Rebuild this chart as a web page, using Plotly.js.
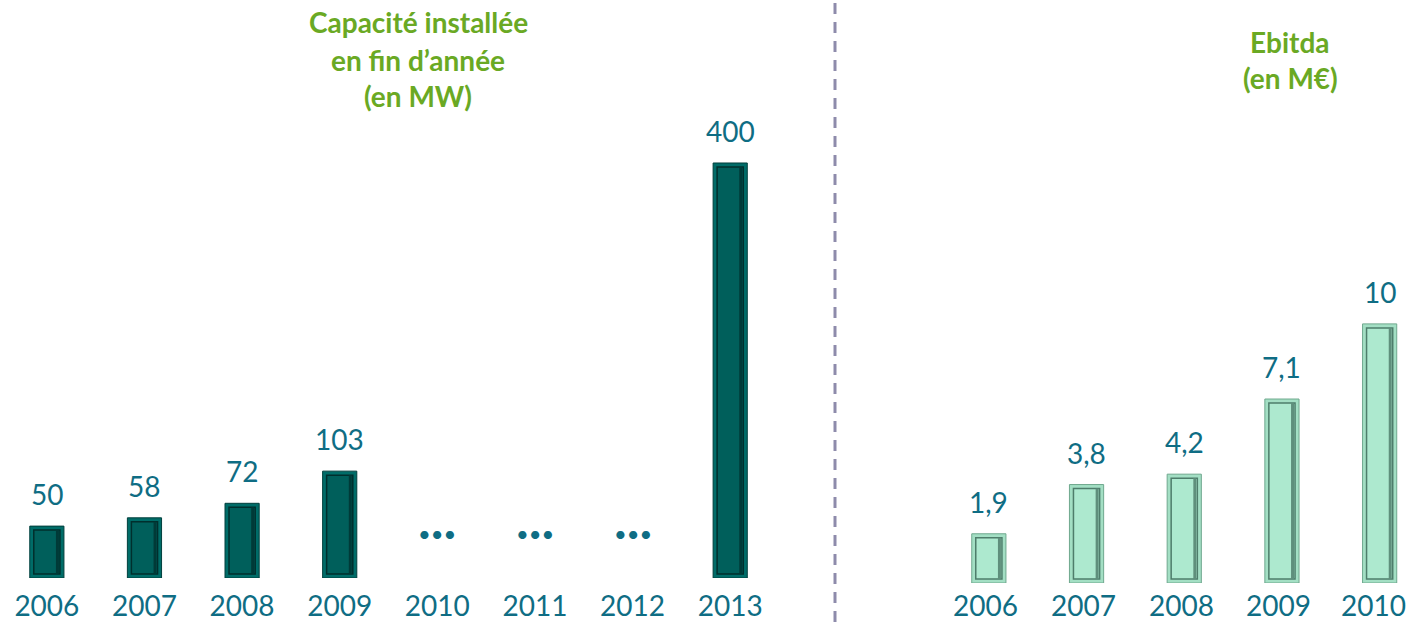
<!DOCTYPE html>
<html>
<head>
<meta charset="utf-8">
<script src="https://cdn.plot.ly/plotly-3.0.1.min.js"></script>
<style>html,body{margin:0;padding:0;background:#fff;}#chart{width:1407px;height:622px;}</style>
</head>
<body>
<div id="chart"></div>
<script>
// ---- data ----
const capYears = ["2006","2007","2008","2009","2010","2011","2012","2013"];
const capValues = [50, 58, 72, 103, null, null, null, 400];
const capLabels = ["50","58","72","103","•••","•••","•••","400"];

const ebitdaYears = ["2006","2007","2008","2009","2010"];
const ebitdaValues = [1.9, 3.8, 4.2, 7.1, 10];
const ebitdaLabels = ["1,9","3,8","4,2","7,1","10"];

const capTitleLines = ["Capacité installée", "en fin d’année", "(en MW)"];
const ebitdaTitleLines = ["Ebitda", "(en M€)"];

// ---- style ----
const W = 1407, H = 622;
const FONT = "Lato, 'Open Sans', sans-serif";
const labelColor = "#0f6d84";
const titleColor = "#6aa924";

// left axis geometry
const leftRange = [-0.48, 7.5];
const leftDomainEnd = 779 / W;
const leftBottomPx = 578;
const leftYMax = 557.1;
const leftPxPerUnit = leftBottomPx / leftYMax;
const leftPxPerCat = 97.6;

// right axis geometry
const rightRange = [-0.5, 4.28];
const rightDomainStart = 940 / W;
const rightBottomPx = 583;
const rightYMax = 22.5;
const rightPxPerUnit = rightBottomPx / rightYMax;
const rightPxPerCat = 97.5;

const barW = 0.35;
const insetPx = 4;
const shadePx = 3;

function innerTrace(xs, vals, pxPerUnit, pxPerCat, color, line, xa, ya) {
  const inset = insetPx / pxPerUnit;
  return {
    type: "bar", x: xs,
    y: vals.map(v => v == null ? null : v - 2 * inset),
    base: vals.map(v => v == null ? null : inset),
    width: barW - 2 * insetPx / pxPerCat,
    marker: {color: color, line: {color: line, width: 1.5}},
    xaxis: xa, yaxis: ya, hoverinfo: "skip"
  };
}
function shadeTrace(xs, vals, pxPerUnit, pxPerCat, color, xa, ya) {
  const inset = insetPx / pxPerUnit;
  return {
    type: "bar", x: xs,
    y: vals.map(v => v == null ? null : v - 2 * inset),
    base: vals.map(v => v == null ? null : inset),
    width: shadePx / pxPerCat,
    offset: barW / 2 - (insetPx + shadePx + 1) / pxPerCat,
    marker: {color: color, line: {width: 0}},
    xaxis: xa, yaxis: ya, hoverinfo: "skip"
  };
}

const traces = [
  {type: "bar", x: capYears, y: capValues, width: barW,
   marker: {color: "#006c68", line: {color: "#003f3c", width: 1}},
   xaxis: "x", yaxis: "y", hoverinfo: "skip"},
  innerTrace(capYears, capValues, leftPxPerUnit, leftPxPerCat, "#005f5b", "#002f2d", "x", "y"),
  shadeTrace(capYears, capValues, leftPxPerUnit, leftPxPerCat, "#003a38", "x", "y"),
  {type: "bar", x: ebitdaYears, y: ebitdaValues, width: barW,
   marker: {color: "#a3dfc4", line: {color: "#6fa88e", width: 1}},
   xaxis: "x2", yaxis: "y2", hoverinfo: "skip"},
  innerTrace(ebitdaYears, ebitdaValues, rightPxPerUnit, rightPxPerCat, "#ade9cf", "#4e7d6b", "x2", "y2"),
  shadeTrace(ebitdaYears, ebitdaValues, rightPxPerUnit, rightPxPerCat, "#5f8f7c", "x2", "y2")
];

const annotations = [];
capYears.forEach((yr, i) => {
  const v = capValues[i];
  annotations.push({
    x: i, y: v == null ? 0 : v, xref: "x", yref: "y",
    text: capLabels[i], showarrow: false,
    yanchor: "middle", yshift: v == null ? 45 : 32,
    font: {family: FONT, size: v == null ? 22 : 28, color: labelColor}
  });
});
ebitdaYears.forEach((yr, i) => {
  annotations.push({
    x: i, y: ebitdaValues[i], xref: "x2", yref: "y2",
    text: ebitdaLabels[i], showarrow: false,
    yanchor: "middle", yshift: 32,
    font: {family: FONT, size: 28, color: labelColor}
  });
  // year label under the bar
  annotations.push({
    x: i, y: 0, xref: "x2", yref: "y2",
    text: yr, showarrow: false,
    yanchor: "middle", yshift: -22, xshift: i === ebitdaYears.length - 1 ? -6 : -3,
    font: {family: FONT, size: 28, color: labelColor}
  });
});
const capTitleY = [22, 60, 96];
capTitleLines.forEach((t, i) => {
  annotations.push({x: 418 / W, y: 1 - capTitleY[i] / H, xref: "paper", yref: "paper",
    text: "<b>" + t + "</b>", showarrow: false, xanchor: "center", yanchor: "middle",
    font: {family: FONT, size: 28, color: titleColor}});
});
const ebTitleY = [42, 78];
ebitdaTitleLines.forEach((t, i) => {
  annotations.push({x: 1290 / W, y: 1 - ebTitleY[i] / H, xref: "paper", yref: "paper",
    text: "<b>" + t + "</b>", showarrow: false, xanchor: "center", yanchor: "middle",
    font: {family: FONT, size: 28, color: titleColor}});
});

const axisCommon = {showgrid: false, zeroline: false, showline: false, fixedrange: true};
const layout = {
  width: W, height: H,
  margin: {l: 0, r: 0, t: 0, b: 0},
  paper_bgcolor: "#ffffff", plot_bgcolor: "rgba(0,0,0,0)",
  showlegend: false, barmode: "overlay",
  font: {family: FONT},
  xaxis: Object.assign({}, axisCommon, {type: "category", domain: [0, leftDomainEnd], range: leftRange,
    anchor: "y", ticks: "outside", ticklen: 3, tickcolor: "rgba(0,0,0,0)",
    tickfont: {family: FONT, size: 28, color: labelColor}}),
  yaxis: Object.assign({}, axisCommon, {domain: [1 - leftBottomPx / H, 1], range: [0, leftYMax],
    showticklabels: false, anchor: "x"}),
  xaxis2: Object.assign({}, axisCommon, {type: "category", domain: [rightDomainStart, 1], range: rightRange,
    anchor: "y2", showticklabels: false}),
  yaxis2: Object.assign({}, axisCommon, {domain: [1 - rightBottomPx / H, 1], range: [0, rightYMax],
    showticklabels: false, anchor: "x2"}),
  shapes: [{type: "line", xref: "paper", yref: "paper", x0: 835 / W, x1: 835 / W, y0: 0, y1: 1,
    line: {color: "#8e8bab", width: 3, dash: "11px,8px"}}],
  annotations: annotations
};

Plotly.newPlot("chart", traces, layout, {displayModeBar: false, staticPlot: true});
</script>
</body>
</html>
